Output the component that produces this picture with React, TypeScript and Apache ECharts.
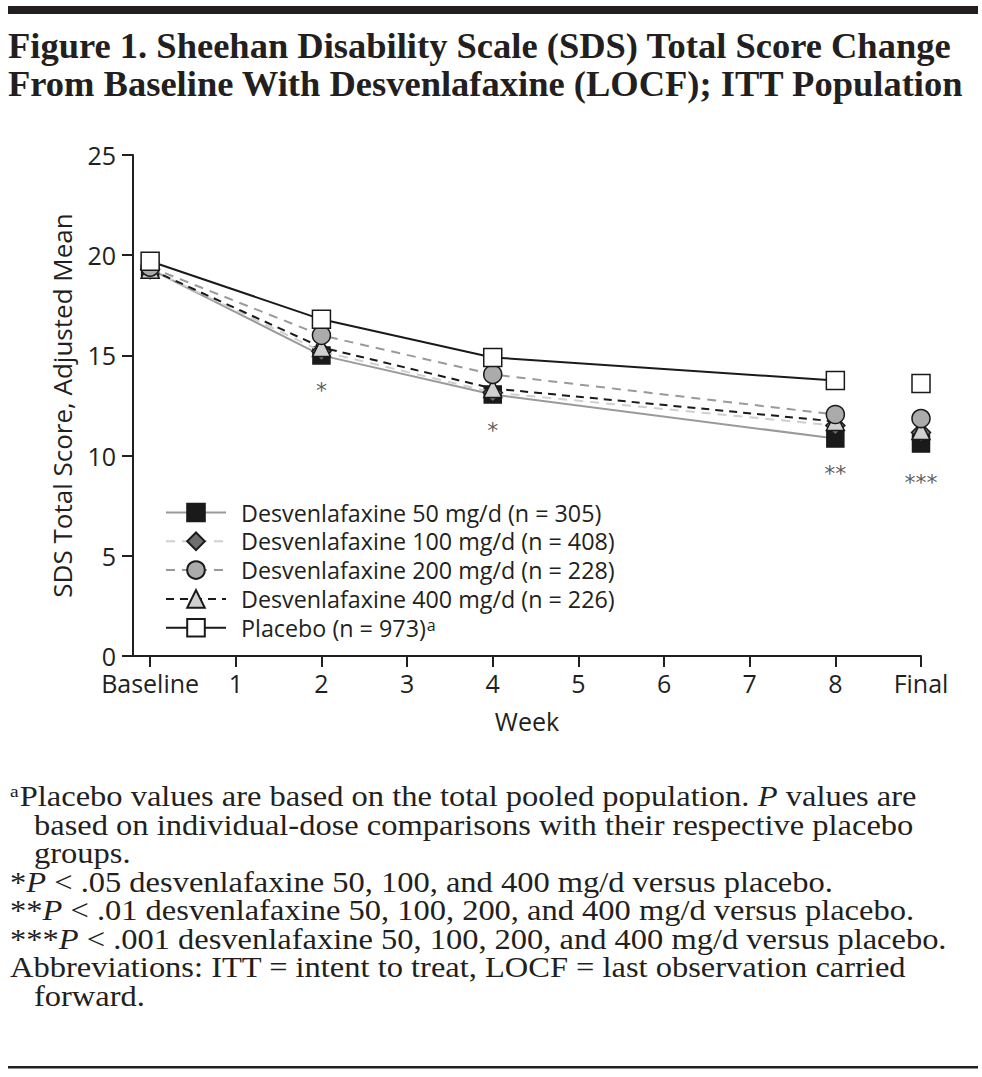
import React, { useEffect, useRef } from "react";
import * as echarts from "echarts";

// ---- data ----
const tickValues = [0, 1, 2, 3, 4, 5, 6, 7, 8, 9];
const tickLabels = ["Baseline", "1", "2", "3", "4", "5", "6", "7", "8", "Final"];
const weekPositions = [0, 2, 4, 8, 9]; // 9 = Final
const seriesNames = [
  "Desvenlafaxine 50 mg/d (n = 305)",
  "Desvenlafaxine 100 mg/d (n = 408)",
  "Desvenlafaxine 200 mg/d (n = 228)",
  "Desvenlafaxine 400 mg/d (n = 226)",
  "Placebo (n = 973)",
];
const d50 = [19.3, 15.0, 13.05, 10.85, 10.6];
const d100 = [19.3, 15.2, 13.15, 11.5, 11.15];
const d200 = [19.4, 16.0, 14.05, 12.05, 11.85];
const d400 = [19.3, 15.4, 13.35, 11.7, 11.25];
const placebo = [19.7, 16.8, 14.9, 13.75, 13.6];
const starPositions = [2, 4, 8, 9];
const starValues = [13.25, 11.25, 9.1, 8.65];
const starLabels = ["*", "*", "**", "***"];

const titleLines = [
  "Figure 1. Sheehan Disability Scale (SDS) Total Score Change",
  "From Baseline With Desvenlafaxine (LOCF); ITT Population",
];
const footLines = [
  { text: "{sup|a}Placebo values are based on the total pooled population. {i|P} values are", indent: false },
  { text: "based on individual-dose comparisons with their respective placebo", indent: true },
  { text: "groups.", indent: true },
  { text: "*{i|P} < .05 desvenlafaxine 50, 100, and 400 mg/d versus placebo.", indent: false },
  { text: "**{i|P} < .01 desvenlafaxine 50, 100, 200, and 400 mg/d versus placebo.", indent: false },
  { text: "***{i|P} < .001 desvenlafaxine 50, 100, 200, and 400 mg/d versus placebo.", indent: false },
  { text: "Abbreviations: ITT = intent to treat, LOCF = last observation carried", indent: false },
  { text: "forward.", indent: true },
];

const INK = "#231f20";
const SANS = "'Open Sans', 'Noto Sans', sans-serif";
const SERIF = "'Liberation Serif', 'DejaVu Serif', serif";

function lineData(vals: number[]) {
  const pts: any[] = weekPositions.map((w, i) => [w, vals[i]]);
  return [...pts.slice(0, 4), [8.5, "-"], pts[4]];
}

export default function App() {
  const ref = useRef<HTMLDivElement>(null);
  useEffect(() => {
    if (!ref.current) return;
    const chart = echarts.init(ref.current, null, { renderer: "svg" });

    const styles = [
      { data: d50, symbol: "rect", size: 17, line: { color: "#9a9a9a", type: "solid" }, fill: "#1a1a1a", z: 2 },
      { data: d100, symbol: "diamond", size: 19, line: { color: "#cfcfcf", type: [9, 7] }, fill: "#6e6e6e", z: 3 },
      { data: d200, symbol: "circle", size: 18, line: { color: "#9a9a9a", type: [9, 7] }, fill: "#ababab", z: 5 },
      { data: d400, symbol: "triangle", size: 18, line: { color: "#1a1a1a", type: [8, 6] }, fill: "#d0d0d0", z: 4 },
      { data: placebo, symbol: "rect", size: 18, line: { color: "#1a1a1a", type: "solid" }, fill: "#ffffff", z: 6 },
    ];

    const series: any[] = styles.map((s, i) => ({
      name: seriesNames[i],
      type: "line",
      data: lineData(s.data),
      symbol: s.symbol,
      symbolSize: s.size,
      showSymbol: true,
      connectNulls: false,
      z: s.z,
      lineStyle: { color: s.line.color, type: s.line.type, width: 2 },
      itemStyle: { color: s.fill, borderColor: "#1a1a1a", borderWidth: 1.5 },
      emphasis: { disabled: true },
    }));

    const starLabel = {
      show: true,
      position: "inside",
      fontSize: 22,
      color: "#333333",
      textBorderWidth: 0,
      fontFamily: "'DejaVu Sans', sans-serif",
    };
    series.push({
      name: "significance",
      type: "scatter",
      symbolSize: 1,
      itemStyle: { color: "rgba(0,0,0,0)" },
      z: 10,
      data: starPositions.map((x, i) => ({
        value: [x, starValues[i]],
        label: { ...starLabel, formatter: starLabels[i] },
      })),
      label: starLabel,
      emphasis: { disabled: true },
    });

    const graphics: any[] = [
      { type: "rect", shape: { x: 8, y: 6, width: 970, height: 8 }, style: { fill: INK } },
      { type: "rect", shape: { x: 8, y: 1066, width: 970, height: 2.5 }, style: { fill: INK } },
    ];
    titleLines.forEach((t, i) => {
      graphics.push({
        type: "text",
        x: 8,
        y: 45 + i * 38,
        style: {
          text: t,
          fontFamily: SERIF,
          fontWeight: "bold",
          fontSize: 36.5,
          fill: INK,
          verticalAlign: "middle",
        },
      });
    });
    footLines.forEach((l, i) => {
      graphics.push({
        type: "text",
        x: l.indent ? 34 : 10,
        y: 797 + i * 28.5,
        scaleX: 1.14,
        style: {
          text: l.text,
          fontFamily: SERIF,
          fontSize: 28.5,
          fill: INK,
          verticalAlign: "middle",
          rich: {
            i: { fontFamily: SERIF, fontSize: 28.5, fontStyle: "italic", fill: INK },
            sup: { fontFamily: SERIF, fontSize: 17, fill: INK, verticalAlign: "top", padding: [0, 1, 12, 0] },
          },
        },
      });
    });

    chart.setOption({
      animation: false,
      backgroundColor: "#ffffff",
      grid: { left: 133, top: 155, right: 61, bottom: 421, containLabel: false },
      xAxis: {
        type: "value",
        min: -0.2,
        max: 9,
        name: "Week",
        nameLocation: "middle",
        nameGap: 52,
        nameTextStyle: { fontFamily: SANS, fontSize: 25, color: INK },
        axisLine: { show: true, onZero: false, lineStyle: { color: INK, width: 2 } },
        axisTick: { show: true, customValues: tickValues, length: 11, lineStyle: { color: INK, width: 2 } },
        axisLabel: {
          customValues: tickValues,
          formatter: (v: number) => tickLabels[Math.round(v)],
          fontFamily: SANS,
          fontSize: 25,
          color: INK,
          margin: 14,
        },
        splitLine: { show: false },
      },
      yAxis: {
        type: "value",
        min: 0,
        max: 25,
        interval: 5,
        name: "SDS Total Score, Adjusted Mean",
        nameLocation: "middle",
        nameGap: 58,
        nameTextStyle: { fontFamily: SANS, fontSize: 26, color: INK },
        axisLine: { show: true, onZero: false, lineStyle: { color: INK, width: 2 } },
        axisTick: { show: true, length: 11, lineStyle: { color: INK, width: 2 } },
        axisLabel: { fontFamily: SANS, fontSize: 25, color: INK, margin: 17 },
        splitLine: { show: false },
      },
      legend: {
        data: seriesNames,
        orient: "vertical",
        left: 160,
        top: 496,
        itemWidth: 60,
        itemHeight: 22,
        itemGap: 5.8,
        selectedMode: false,
        textStyle: {
          fontFamily: SANS,
          fontSize: 23.3,
          lineHeight: 22,
          color: INK,
          padding: [0, 0, 0, 10],
          rich: {
            n: { fontFamily: SANS, fontSize: 23.3, lineHeight: 22, color: INK },
            s: { fontFamily: SANS, fontSize: 16, lineHeight: 22, color: INK, verticalAlign: "top", padding: [0, 0, 8, 1] },
          },
        },
        formatter: (name: string) =>
          name === "Placebo (n = 973)" ? "{n|Placebo (n = 973)}{s|a}" : name,
      },
      graphic: graphics,
      series,
    });

    return () => chart.dispose();
  }, []);

  return (
    <div
      ref={ref}
      style={{ position: "absolute", left: 0, top: 0, width: 982, height: 1077 }}
    />
  );
}
